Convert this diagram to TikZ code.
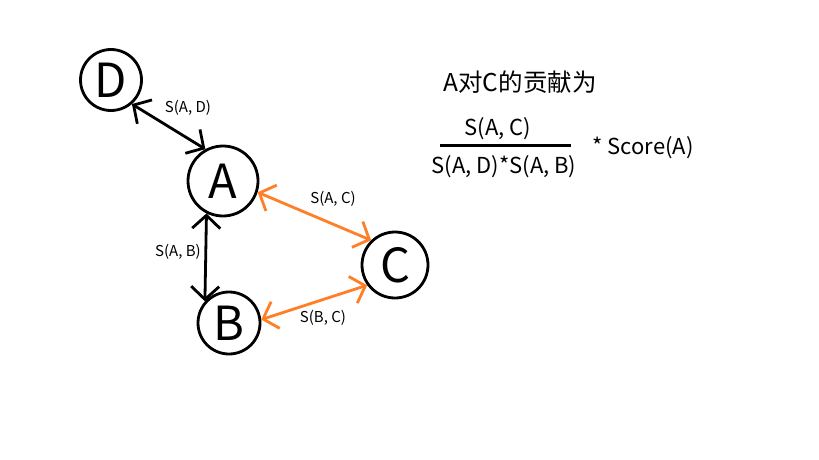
\documentclass[tikz,border=0pt]{standalone}
\usepackage{fontspec}
\setmainfont{Noto Sans CJK SC}
\usetikzlibrary{arrows.meta}
\definecolor{paintorange}{RGB}{255,127,39}
\tikzset{
  vert/.style={draw=black, line width=2.8pt, circle, minimum size=#1, inner sep=0pt, font=\fontsize{47}{47}\selectfont},
  link/.style={line width=2.8pt, {Straight Barb[length=13pt,width=28pt,line width=2.8pt]}-{Straight Barb[length=13pt,width=28pt,line width=2.8pt]}},
  elabel/.style={font=\fontsize{15}{15}\selectfont, inner sep=0pt},
  ftext/.style={font=\fontsize{22}{22}\selectfont, inner sep=0pt}
}
\begin{document}
\begin{tikzpicture}[x=1pt,y=-1pt]
\useasboundingbox[fill=white] (0,0) rectangle (819,460);
\node[vert=61pt] (D) at (111,80) {D};
\node[vert=70pt] (A) at (223,181) {A};
\node[vert=62pt] (B) at (229,323) {B};
\node[vert=66pt] (C) at (395,265) {C};
\draw[link] (D.311) -- (A.119);
\draw[link] (A.243) -- (B.138);
\draw[link, draw=paintorange] (A.-18) -- (C.134);
\draw[link, draw=paintorange] (B.6) -- (C.216);
\node[elabel] (lad) at (188,108) {S(A, D)};
\node[elabel] (lab) at (178,252) {S(A, B)};
\node[elabel] (lac) at (333,199) {S(A, C)};
\node[elabel] (lbc) at (323,318) {S(B, C)};
\node[font=\fontsize{24.5}{24.5}\selectfont, inner sep=0pt] (title) at (520,82) {A对C的贡献为};
\node[ftext] (num) at (498,129) {S(A, C)};
\node[ftext] (den) at (504,167) {S(A, D)*S(A, B)};
\node[ftext] (score) at (643,148) {* Score(A)};
\coordinate (bl) at (440,145);
\coordinate (br) at (571,145);
\draw[line width=3pt] (bl) -- (br);
\end{tikzpicture}
\end{document}
